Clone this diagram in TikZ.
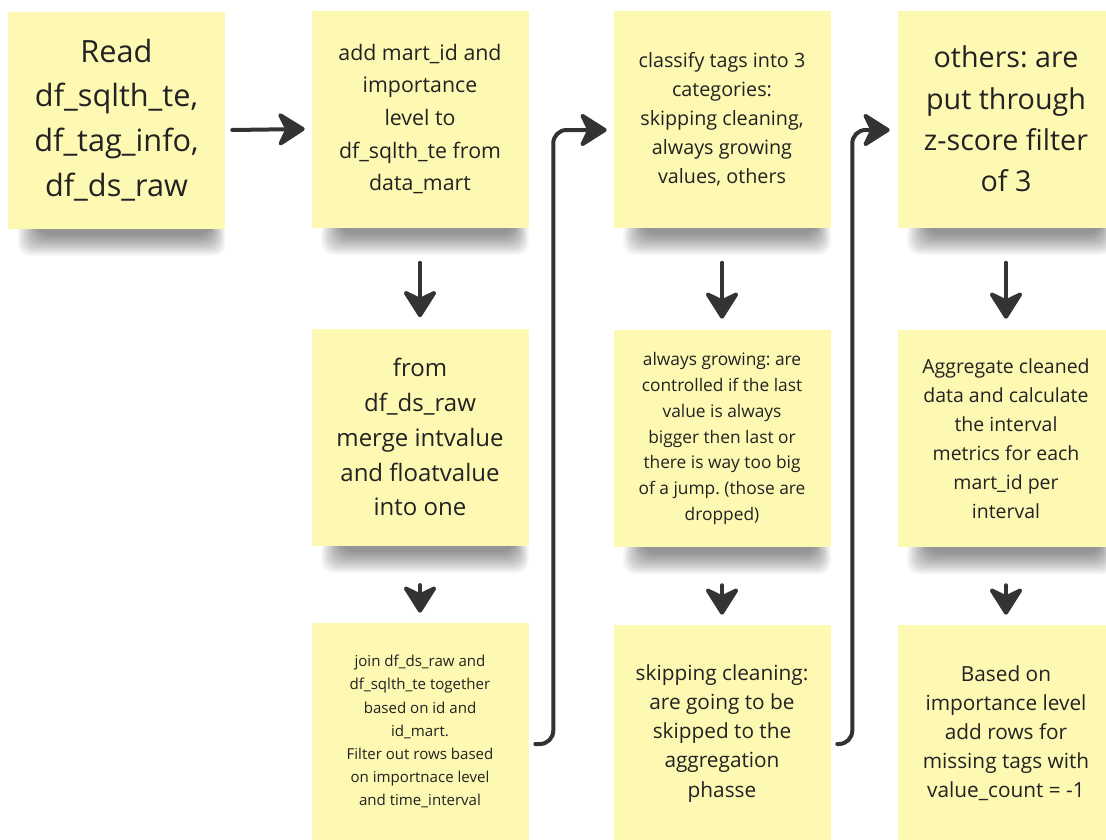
\documentclass[tikz,border=0pt]{standalone}
\usepackage{fontspec}
\setmainfont{Open Sans}
\frenchspacing
\usetikzlibrary{arrows.meta,backgrounds}
\definecolor{noteyellow}{HTML}{FDF8B2}
\definecolor{flowgray}{HTML}{333333}
\definecolor{notetext}{HTML}{222222}
\tikzset{
  sticky/.style={fill=noteyellow,minimum width=162.75pt,minimum height=162.75pt,align=center,text=notetext,inner sep=0pt},
  flow/.style={draw=flowgray,line width=3pt,line cap=round,-{Stealth[length=23pt,width=29pt,inset=7pt,round]}},
}
\begin{document}
\begin{tikzpicture}[x=0.75pt,y=-0.75pt]
\useasboundingbox (0,0) rectangle (1106,839);
% notes, column by column
\node[sticky,font=\fontsize{23}{33.5}\selectfont] (read) at (116.5,120) {Read\\df\_sqlth\_te,\\df\_tag\_info,\\df\_ds\_raw};
\node[sticky,font=\fontsize{16}{24.4}\selectfont] (mart) at (420,119) {add mart\_id and\\importance\\level to\\df\_sqlth\_te from\\data\_mart};
\node[sticky,font=\fontsize{18}{26.2}\selectfont] (merge) at (420,437) {from\\df\_ds\_raw\\merge intvalue\\and floatvalue\\into one};
\node[sticky,font=\fontsize{11.3}{17.3}\selectfont] (join) at (420,731.5) {join df\_ds\_raw and\\df\_sqlth\_te together\\based on id and\\id\_mart.\\Filter out rows based\\on importnace level\\and time\_interval};
\node[sticky,font=\fontsize{14.8}{21.8}\selectfont] (classify) at (722,119) {classify tags into 3\\categories:\\skipping cleaning,\\always growing\\values, others};
\node[sticky,font=\fontsize{13}{19.3}\selectfont] (grow) at (722,438.5) {always growing: are\\controlled if the last\\value is always\\bigger then last or\\there is way too big\\of a jump. (those are\\dropped)};
\node[sticky,font=\fontsize{15.6}{21.8}\selectfont] (skip) at (722,733.5) {skipping cleaning:\\are going to be\\skipped to the\\aggregation\\phasse};
\node[sticky,font=\fontsize{21.5}{31}\selectfont] (others) at (1006,119) {others: are\\put through\\z-score filter\\of 3};
\node[sticky,font=\fontsize{14.6}{21.8}\selectfont] (agg) at (1006,438.5) {Aggregate cleaned\\data and calculate\\the interval\\metrics for each\\mart\_id per\\interval};
\node[sticky,font=\fontsize{15.6}{21.8}\selectfont] (based) at (1006,733.5) {Based on\\importance level\\add rows for\\missing tags with\\value\_count = -1};
% soft shadows under the notes
\begin{scope}[on background layer]
\fill[white] (0,0) rectangle (1106,839);
\foreach \n in {read,mart,merge,join,classify,grow,skip,others,agg,based}{
  \foreach \i in {0,...,13}{\fill[black,opacity=.035,rounded corners=9pt] ([shift={(10+1.6*\i,-8)}]\n.south west) rectangle ([shift={(-1.2*\i,27-1.6*\i)}]\n.south east);}}
\end{scope}
% connectors
\draw[flow] ([shift={(7,10)}]read.east) -- ([shift={(-6.5,10)}]mart.west);
\draw[flow] ([yshift=-26.25pt]mart.south) -- ([yshift=8.25pt]merge.north);
\draw[flow] ([yshift=-29.5pt]merge.south) -- ([yshift=7.5pt]join.north);
\draw[flow,rounded corners=10pt] ([shift={(6.5,12.5)}]join.east) -- ++(18,0) |- ([shift={(-6.5,11)}]classify.west);
\draw[flow] ([yshift=-26.25pt]classify.south) -- ([yshift=8.25pt]grow.north);
\draw[flow] ([yshift=-28.5pt]grow.south) -- ([yshift=7.5pt]skip.north);
\draw[flow,rounded corners=10pt] ([shift={(6.5,10.5)}]skip.east) -- ++(15,0) |- ([shift={(-7.5,11)}]others.west);
\draw[flow] ([yshift=-26.25pt]others.south) -- ([yshift=8.25pt]agg.north);
\draw[flow] ([yshift=-28.5pt]agg.south) -- ([yshift=7.5pt]based.north);
\end{tikzpicture}
\end{document}
